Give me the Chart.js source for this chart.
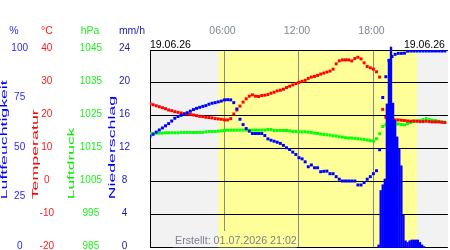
<!DOCTYPE html>
<html><head><meta charset="utf-8">
<script src="https://cdn.jsdelivr.net/npm/chart.js@4/dist/chart.umd.min.js"></script>
<style>html,body{margin:0;padding:0;background:#fff;}#wrap{width:450px;height:250px;}</style>
</head><body><div id="wrap"><canvas id="c" width="450" height="250"></canvas></div>
<script>
// ---- data ----
const times = [
 "00:00","00:15","00:30","00:45","01:00","01:15","01:30","01:45",
 "02:00","02:15","02:30","02:45","03:00","03:15","03:30","03:45",
 "04:00","04:15","04:30","04:45","05:00","05:15","05:30","05:45",
 "06:00","06:15","06:30","06:45","07:00","07:15","07:30","07:45",
 "08:00","08:15","08:30","08:45","09:00","09:15","09:30","09:45",
 "10:00","10:15","10:30","10:45","11:00","11:15","11:30","11:45",
 "12:00","12:15","12:30","12:45","13:00","13:15","13:30","13:45",
 "14:00","14:15","14:30","14:45","15:00","15:15","15:30","15:45",
 "16:00","16:15","16:30","16:45","17:00","17:15","17:30","17:45",
 "18:00","18:15","18:30","18:45","19:00","19:15","19:30","19:45",
 "20:00","20:15","20:30","20:45","21:00","21:15","21:30","21:45",
 "22:00","22:15","22:30","22:45","23:00","23:15","23:30","23:45"];
const temperature = [
 23.7,23.4,23.1,22.8,22.5,22.2,21.8,21.6,
 21.3,21.1,20.9,20.7,20.6,20.5,20.3,20.1,
 19.9,19.8,19.6,19.5,19.4,19.2,19.1,19.0,
 18.8,18.8,19.2,20.6,21.8,23.0,24.2,25.2,
 26.0,26.4,26.0,25.9,26.2,26.3,26.5,26.9,
 27.2,27.6,27.8,28.1,28.6,29.0,29.4,29.8,
 30.2,30.5,30.8,31.4,31.8,32.0,32.3,32.7,
 33.0,33.3,33.6,34.2,35.8,36.7,37.0,37.0,
 37.0,36.7,37.4,37.8,37.3,36.1,35.0,34.6,
 34.2,33.4,31.8,22.0,19.6,19.0,18.8,18.8,
 18.8,18.7,18.6,18.5,18.4,18.5,18.4,18.3,
 18.3,18.4,18.3,18.2,18.2,18.2,18.1,18.0];
const pressure = [
 1019.7,1019.7,1019.8,1019.8,1019.8,1019.9,1019.9,1019.9,
 1019.9,1019.9,1020.0,1020.0,1020.0,1020.0,1020.0,1020.0,
 1020.0,1020.0,1020.2,1020.3,1020.3,1020.3,1020.4,1020.5,
 1020.6,1020.7,1020.7,1020.7,1020.7,1020.7,1020.7,1020.7,
 1020.7,1020.7,1020.7,1020.7,1020.7,1020.7,1020.9,1020.9,
 1020.6,1020.6,1020.6,1020.6,1020.6,1020.5,1020.3,1020.3,
 1020.2,1020.2,1020.2,1020.1,1020.0,1019.8,1019.7,1019.5,
 1019.4,1019.3,1019.2,1019.0,1018.9,1018.7,1018.6,1018.4,
 1018.3,1018.3,1018.2,1018.1,1018.0,1017.9,1017.7,1017.5,
 1017.4,1018.1,1019.6,1021.8,1022.3,1022.5,1022.6,1022.6,
 1022.6,1022.4,1022.3,1022.7,1023.0,1023.3,1023.5,1023.6,
 1023.9,1024.2,1023.9,1023.7,1023.6,1023.4,1023.2,1023.1];
const humidity = [
 56.4,57.4,58.5,59.6,60.6,61.7,62.8,64.1,
 65.5,66.4,67.0,67.6,68.3,69.1,69.9,70.5,
 71.0,71.5,71.9,72.6,73.1,73.4,73.8,74.2,
 74.8,74.9,74.8,73.4,70.2,65.0,62.3,60.3,
 59.0,57.8,57.8,57.8,57.8,56.8,55.1,54.4,
 53.9,53.4,52.8,51.8,50.6,49.7,48.4,47.2,
 45.6,45.0,43.5,41.0,41.9,40.5,40.5,38.5,
 38.7,38.8,37.5,37.5,36.0,34.7,33.8,33.8,
 33.8,33.8,33.8,31.8,31.8,33.0,34.7,36.0,
 37.5,39.0,49.6,76.0,86.5,94.8,96.7,97.8,
 98.3,98.3,98.4,99.4,99.5,99.5,99.5,99.5,
 99.5,99.5,99.5,99.5,99.5,99.5,99.5,99.5];
const rainTimes = ["18:20","18:30","18:40","18:50","19:00","19:10","19:20","19:30","19:40","19:50",
 "20:00","20:10","20:20","20:30","20:40","20:50","21:00","21:10","21:20","21:30","21:40","21:50","22:00"];
const rainfall = [0.4,7.0,7.7,8.4,17.5,22.8,24.4,17.6,15.5,13.5,
 12.0,10.0,4.0,0.9,0.7,0.9,1.0,1.0,1.0,1.0,0.7,0.4,0.2];
const hourTicks = ["06:00","12:00","18:00"];
const daylight = ["05:31","21:31"];
const dateLabel = "19.06.26";
const createdLabel = "Erstellt: 01.07.2026 21:02";
const axisTitles = ["Luftfeuchtigkeit","Temperatur","Luftdruck","Niederschlag"];
const unitLabels = ["%","°C","hPa","mm/h"];

// ---- helpers ----
const toH = s => parseInt(s.slice(0,2),10) + parseInt(s.slice(3),10)/60;
const pts = vals => vals.map((v,i) => ({x: toH(times[i]), y: v}));
const FONT = "'Liberation Sans', Arial, sans-serif";
Chart.defaults.font.family = FONT;

const C_HUM = '#0000ff', C_TEMP = '#ff0000', C_PRES = '#00ff00', C_RAIN = '#0000ff';
const T_HUM = '#2a2aff', T_TEMP = '#ff1a1a', T_PRES = '#22ee22', T_RAIN = '#1a1ac0';

function fixAxis(w) {
  return s => { s.width = w; s.paddingTop = 0; s.paddingBottom = 0; };
}
function yAxis(weight, min, max, step, color, pad, width, gridOn) {
  return {
    type: 'linear', position: 'left', weight: weight, min: min, max: max,
    ticks: {stepSize: step, color: color, font: {size: 10, family: FONT}, crossAlign: 'center',
            padding: pad, labelOffset: -2, callback: v => String(v)},
    grid: {display: gridOn, drawTicks: false, color: '#000', lineWidth: 1, offset: false},
    border: {display: false},
    afterFit: fixAxis(width)
  };
}

const decor = {
  id: 'decor',
  beforeDraw(chart) {
    const {ctx, chartArea: a, scales: {x}} = chart;
    ctx.save();
    ctx.fillStyle = '#fff'; ctx.fillRect(0, 0, chart.width, chart.height);
    ctx.fillStyle = '#f2f2f2'; ctx.fillRect(a.left, a.top, a.right - a.left, a.bottom - a.top);
    const x1 = x.getPixelForValue(toH(daylight[0])), x2 = x.getPixelForValue(toH(daylight[1]));
    ctx.fillStyle = '#ffff99'; ctx.fillRect(x1, a.top, x2 - x1, a.bottom - a.top);
    ctx.restore();
  },
  beforeDatasetsDraw(chart) {
    // label box of the "Erstellt" note hides the grid underneath it
    const {ctx, chartArea: a, scales: {x}} = chart;
    ctx.save();
    ctx.font = '10.7px ' + FONT;
    const tx = a.left + 25, w = ctx.measureText(createdLabel).width;
    const bx = tx - 2, bw = w + 2, by = a.bottom - 17, bh = 16.5;
    ctx.beginPath(); ctx.rect(bx, by, bw, bh); ctx.clip();
    ctx.fillStyle = '#f2f2f2'; ctx.fillRect(bx, by, bw, bh);
    const x1 = x.getPixelForValue(toH(daylight[0])), x2 = x.getPixelForValue(toH(daylight[1]));
    ctx.fillStyle = '#ffff99'; ctx.fillRect(x1, by, x2 - x1, bh);
    ctx.restore();
  },
  afterDraw(chart) {
    const {ctx, chartArea: a, scales: {x}} = chart;
    ctx.save();
    ctx.textBaseline = 'alphabetic';
    // hour labels
    ctx.font = '10.5px ' + FONT; ctx.fillStyle = '#7d8894'; ctx.textAlign = 'center';
    hourTicks.forEach(h => ctx.fillText(h, x.getPixelForValue(toH(h)) - 2, 33.5));
    // dates
    ctx.fillStyle = '#000';
    ctx.textAlign = 'left'; ctx.fillText(dateLabel, a.left, 47.5);
    ctx.textAlign = 'right'; ctx.fillText(dateLabel, a.right - 3, 47.5);
    // unit headers
    const uc = [T_HUM, T_TEMP, T_PRES, T_RAIN], ux = [14, 47, 90, 132];
    ctx.textAlign = 'center';
    unitLabels.forEach((u, i) => { ctx.fillStyle = uc[i]; ctx.fillText(u, ux[i], 34); });
    // created note
    ctx.font = '10.7px ' + FONT; ctx.fillStyle = '#7a828d'; ctx.textAlign = 'left';
    ctx.fillText(createdLabel, a.left + 25, a.bottom - 4);
    // rotated, stretched axis titles
    const tc = [C_HUM, C_TEMP, '#00ee00', C_HUM], txs = [5, 35.3, 72, 112.7], tlen = [119, 90, 71.6, 103.3];
    axisTitles.forEach((t, i) => {
      ctx.save();
      ctx.font = '9px ' + FONT;
      const w = ctx.measureText(t).width;
      ctx.translate(txs[i], 199.3);
      ctx.rotate(-Math.PI / 2);
      ctx.scale(tlen[i] / w, 1);
      ctx.textAlign = 'left'; ctx.textBaseline = 'middle';
      ctx.fillStyle = tc[i];
      ctx.fillText(t, 0, 0);
      ctx.restore();
    });
    ctx.restore();
  }
};

const pointSet = (label, vals, axis, color, order) => ({
  type: 'line', label: label, data: pts(vals), yAxisID: axis, showLine: false,
  pointStyle: 'rect', pointRadius: 2.1, pointBorderWidth: 0, pointHoverRadius: 2.1,
  pointBackgroundColor: color, backgroundColor: color, borderColor: color, order: order
});

new Chart(document.getElementById('c'), {
  data: {
    datasets: [
      {type: 'bar', label: 'Niederschlag', yAxisID: 'yRain',
       data: rainTimes.map((t, i) => ({x: toH(t) + 5/60, y: rainfall[i]})),
       backgroundColor: C_RAIN, borderWidth: 0, barPercentage: 1.15, categoryPercentage: 1, clip: false, order: 0},
      pointSet('Luftfeuchtigkeit', humidity, 'yHum', C_HUM, 1),
      pointSet('Temperatur', temperature, 'yTemp', C_TEMP, 2),
      pointSet('Luftdruck', pressure, 'yPres', C_PRES, 3)
    ]
  },
  options: {
    responsive: false, animation: false, devicePixelRatio: 1,
    layout: {padding: {left: 0, top: 50, right: 0, bottom: 1}},
    plugins: {legend: {display: false}, tooltip: {enabled: false}},
    scales: {
      x: {type: 'linear', position: 'bottom', min: 0, max: 24, offset: false,
          ticks: {display: false, stepSize: 6},
          grid: {drawTicks: false, lineWidth: 1, offset: false,
                 color: c => (c.tick && c.tick.value > 0 && c.tick.value < 24) ? '#8a8a8a' : 'rgba(0,0,0,0)'},
          border: {display: false},
          afterFit: s => { s.height = 0; }},
      yHum: yAxis(4, 0, 100, 25, T_HUM, 2, 30, false),
      yTemp: yAxis(3, -20, 40, 10, T_TEMP, 14, 38, true),
      yPres: yAxis(2, 985, 1045, 10, T_PRES, 10, 44, false),
      yRain: Object.assign(yAxis(1, 0, 24, 4, T_RAIN, 20, 38, false), {border: {display: true, color: '#000', width: 1}})
    }
  },
  plugins: [decor]
});
</script>
</body></html>
